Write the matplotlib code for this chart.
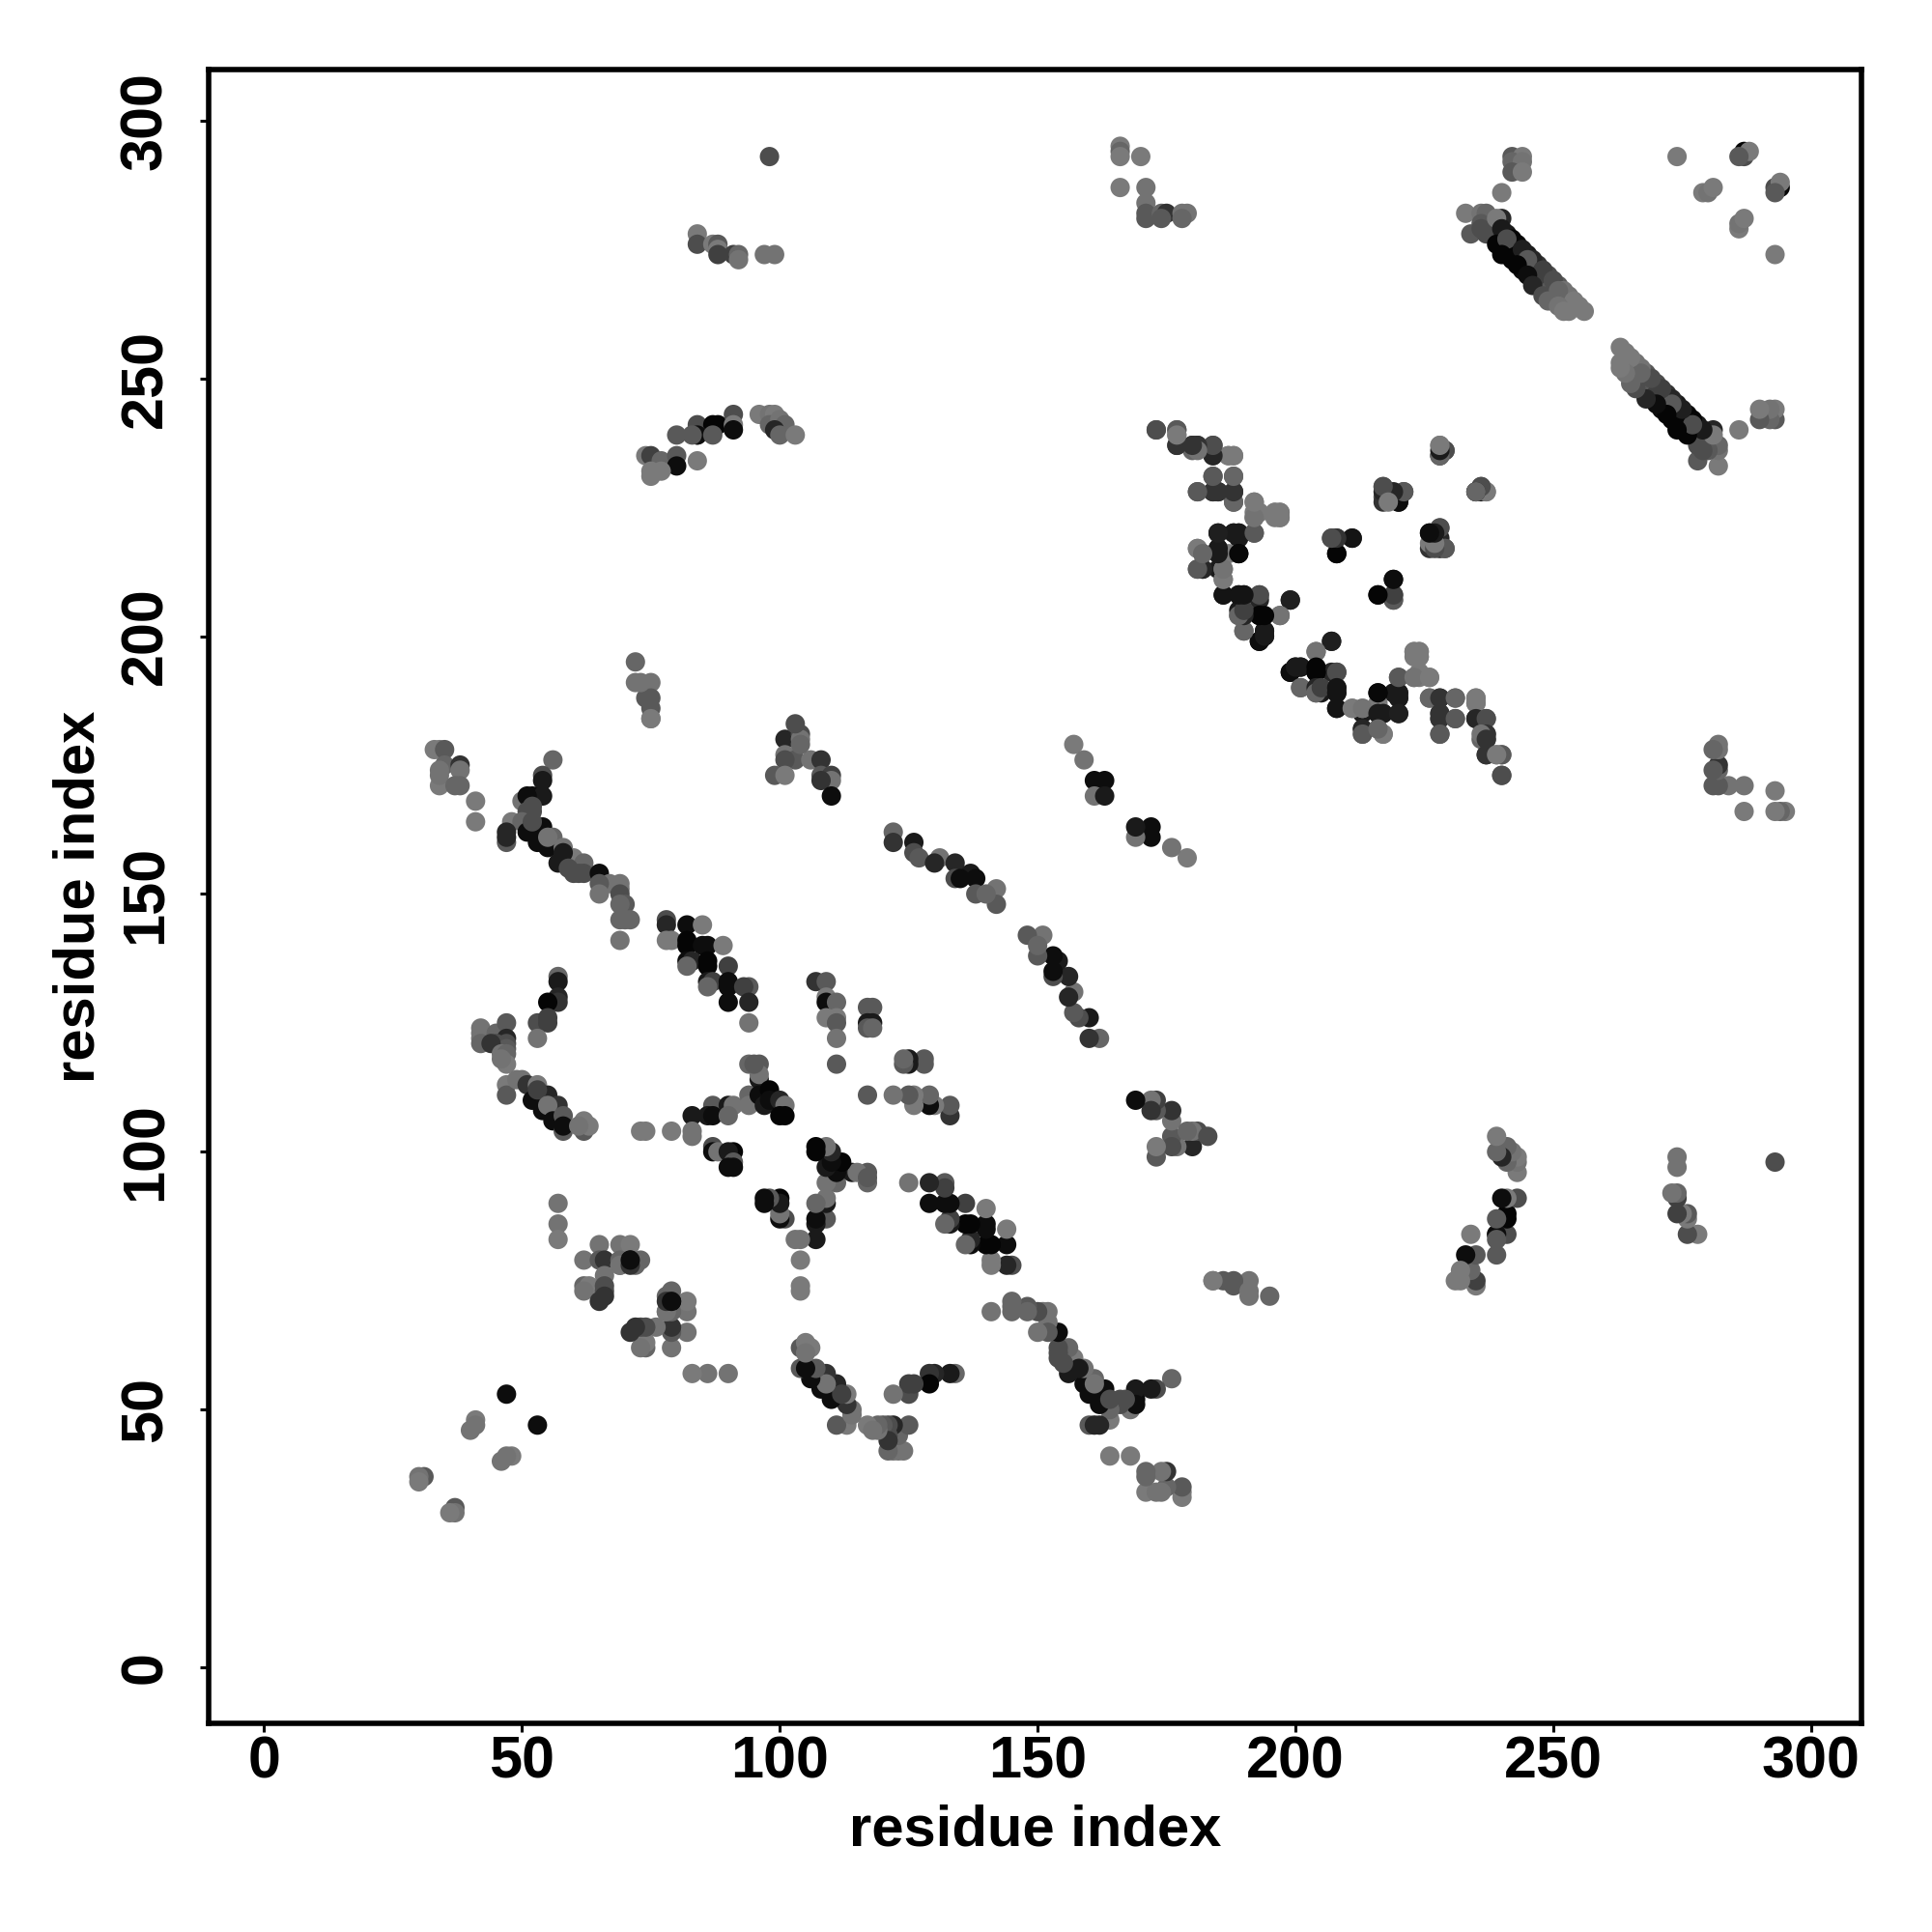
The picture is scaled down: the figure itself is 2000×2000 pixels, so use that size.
import matplotlib
matplotlib.use("Agg")
import matplotlib.pyplot as plt

# Each contact is read once as (i, j) with j > i; the map is symmetric, so (j, i) is drawn too.
a_i = [33,34,35,34,35,38,38,34,34,37,38,41,41]
a_j = [178,178,178,171,175,175,174,174,173,171,171,168,164]
a_g = [.48,.48,.35,.48,.4,.2,.45,.45,.45,.4,.4,.48,.48]

b_i = [56,54,54,52,54,50,51,52,52,51,48,50,47,47,47,51,54,53,52,56,55,58,57,60,62,60,62,61,65,67,69,69,65,65,69,70,69,69,71,70,69,58,55,59]
b_j = [176,173,172,169,169,168,169,167,166,166,164,164,162,160,161,162,163,160,164,161,159,159,156,157,156,154,154,154,154,152,152,151,152,150,150,148,148,145,145,145,141,158,161,155]
b_g = [.4,.3,.1,.05,.1,.45,.05,.3,.3,.3,.48,.4,.15,.35,.15,.05,.05,.05,.3,.4,.05,.45,.1,.48,.4,.3,.3,.3,.05,.45,.45,.45,.35,.45,.3,.35,.4,.4,.4,.4,.45,.1,.45,.3]

c_i = [78,78,82,85,78,79,82,82,86,85,89,82,83,82,86,86,90,86,87,86,90,90,94,93,90,94,94]
c_j = [145,144,144,144,141,141,141,140,140,140,140,137,137,136,137,136,136,133,133,132,133,132,132,132,129,129,125]
c_g = [.3,.15,.05,.48,.48,.48,.02,.02,.05,.05,.48,.05,.15,.4,.02,.02,.25,.1,.25,.4,.05,.05,.35,.25,.05,.15,.45]

d_i = [57,57,57,57,55,53,55,55,53]
d_j = [134,133,130,129,129,125,126,125,122]
d_g = [.4,.1,.15,.2,.02,.3,.25,.25,.45]

e_i = [42,42,42,42,45,47,47,45,47,47,44,46,47,47,46]
e_j = [124,123,122,121,123,125,122,121,121,120,121,119,119,117,118]
e_g = [.45,.45,.45,.4,.4,.35,.15,.3,.3,.35,.2,.45,.4,.48,.45]

f_i = [47,47,49,50,51,53,52,55,53,54,56,57,55,56,58,58,58,62,62,63,61]
f_j = [113,111,114,114,113,113,110,111,112,108,108,109,109,106,107,104,105,104,106,105,105]
f_g = [.48,.35,.45,.45,.2,.48,.05,.15,.25,.05,.05,.2,.45,.05,.35,.35,.05,.35,.48,.48,.45]

g_i = [73,74,79,83,83,83,87,86,87,90,91,90,94,96,94,94,96,96,96,97,98,98,100,101,100,101,95]
g_j = [104,104,104,107,104,103,109,107,107,109,109,107,117,117,111,109,114,115,111,109,112,110,110,109,107,107,117]
g_g = [.48,.48,.48,.1,.45,.45,.35,.1,.05,.1,.45,.4,.4,.35,.4,.45,.1,.45,.05,.1,.02,.05,.15,.45,.02,.02,.35]

h_i = [87,87,88,91,90,91,90,91]
h_j = [101,100,100,100,100,98,97,97]
h_g = [.3,.05,.45,.02,.1,.35,.05,.05]

k_i = [101,104,104,103,101,103,101,106,108,99,101,108,110,110,108,110,104,75,72,72,75,75,75,74,75,73]
k_j = [180,181,180,183,177,176,176,176,176,173,173,173,173,172,172,169,179,184,195,191,191,188,186,188,184,191]
k_g = [.15,.3,.45,.3,.45,.35,.3,.45,.2,.35,.48,.35,.25,.45,.2,.05,.4,.45,.4,.45,.45,.35,.35,.35,.48,.45]

m_i = [107,109,109,109,111,109,111,111,111,111,117,118,117,118,117,118]
m_j = [133,133,130,129,129,126,126,125,122,117,128,128,125,125,124,124]
m_g = [.2,.35,.48,.05,.4,.48,.48,.35,.45,.35,.35,.35,.1,.1,.35,.4]

n_i = [122,122,126,126,127,131,130,134,134,137,138,135,142,138,142,140]
n_j = [162,160,160,158,157,157,156,156,153,154,153,153,151,150,148,150]
n_g = [.4,.2,.1,.3,.35,.45,.15,.15,.3,.1,.05,.05,.45,.35,.35,.4]

o_i = [157,159,161,163,161,163]
o_j = [179,176,172,172,169,169]
o_g = [.48,.45,.05,.05,.45,.1]

p_i = [57,57,57,65,69,71,62,65,66,69,69,71,72,73,66,62,63,62,66,66,65,66,69,71,71]
p_j = [90,86,83,82,82,82,79,79,79,79,78,79,78,79,76,74,74,73,74,73,71,72,78,78,79]
p_g = [.45,.45,.48,.45,.45,.48,.45,.35,.2,.4,.4,.02,.4,.4,.45,.4,.48,.45,.3,.3,.2,.2,.45,.2,.05]

q_i = [47,41,41,40,31,30,30]
q_j = [53,48,47,46,37,37,36]
q_g = [.05,.48,.45,.45,.35,.45,.48]

r_i = [80,84,87,88,91,91,91,84,84,83,87,96,98,99,98,100,101,99,100,103,74,75,77,80,80,84,75,77,75]
r_j = [239,241,241,241,243,241,240,239,239,239,239,243,243,243,241,242,241,240,239,239,235,235,234,235,233,234,232,232,231]
r_g = [.35,.3,.02,.02,.3,.48,.05,.3,.05,.35,.35,.48,.45,.48,.4,.45,.4,.15,.4,.48,.48,.25,.4,.35,.05,.48,.48,.48,.48]

s_i = [98,84,84,87,88,88,88,91,92,92,97,99]
s_j = [293,278,276,276,276,275,274,274,274,273,274,274]
s_g = [.3,.48,.3,.48,.35,.48,.25,.25,.4,.45,.45,.45]

t_i = [166,166,166,170,166,171,171,171,171,174,175,174,178,179,178]
t_j = [295,294,293,293,287,287,284,282,281,282,282,281,282,282,281]
t_g = [.48,.4,.48,.48,.48,.45,.45,.35,.35,.4,.2,.35,.45,.45,.4]

u_i = [173,177,177,177,180,181,180,184,184,184,187,188,184,188,181,184,185,188,188,192,192,192,196,196,197,197,192]
u_j = [240,240,239,237,237,237,236,237,235,236,235,235,231,231,228,228,228,228,226,226,224,223,224,223,224,223,220]
u_g = [.3,.4,.48,.2,.2,.2,.4,.35,.15,.3,.48,.48,.35,.35,.3,.2,.2,.2,.35,.45,.48,.45,.48,.48,.48,.48,.3]

v_i = [185,188,189,189,181,185,182,185,189,187,181,182,185,186,186,186,189,190,193,193,199,189,190,189,193,197,190,194,194,193]
v_j = [220,220,220,219,217,217,216,216,216,216,213,213,213,213,211,208,208,208,208,207,207,204,204,205,204,204,201,201,200,199]
v_g = [.1,.1,.1,.1,.48,.1,.4,.1,.02,.48,.35,.12,.1,.48,.48,.05,.05,.05,.3,.15,.12,.4,.48,.1,.02,.4,.4,.08,.08,.02]

w_i = [207,204,199,200,201,204,204,208,201,204,204,205,208,208,208,211,213,213,213,216,216,217,217,216,220,220,220,220]
w_j = [199,197,193,194,194,194,193,193,190,190,189,190,190,189,186,186,186,182,181,189,185,185,181,182,189,188,185,192]
w_g = [.12,.45,.05,.1,.1,.02,.02,.3,.4,.15,.4,.25,.08,.08,.08,.48,.45,.15,.35,.03,.1,.1,.48,.4,.1,.1,.12,.35]

x_i = [224,224,223,224,223,226,226,228,231,228,228,231,228,235,235,235,237,237,236,237,237,240,239,240]
x_j = [197,196,197,193,192,192,188,188,188,185,184,184,181,188,187,184,184,181,181,180,177,177,177,173]
x_g = [.48,.48,.48,.48,.45,.48,.4,.2,.4,.2,.2,.35,.35,.48,.48,.15,.3,.2,.45,.2,.2,.35,.48,.3]

y_i = [228,229,228,228,217,217,218,221,220,220,236,235,236,237,207,208,211,208,226,228,228,226,228,229,226,219,216,219,219]
y_j = [237,236,235,235,229,227,227,228,227,226,229,228,228,228,219,219,219,216,220,221,219,217,217,217,218,211,208,208,207]
y_g = [.48,.3,.1,.4,.35,.3,.48,.3,.1,.05,.3,.4,.1,.48,.35,.25,.05,.02,.05,.35,.15,.2,.15,.3,.48,.08,.02,.2,.3]

z_i = [242,244,242,244,242,244,240,233,236,237,234,236,236,237,240,239,240,239,242,241,244,240,246,245,243,248,245,250,246,252,248,251,254,249,256,253,251,252]
z_j = [293,293,292,292,290,290,286,282,282,282,278,280,279,278,281,281,279,276,277,277,275,274,273,273,272,271,270,269,268,267,266,267,265,265,263,263,264,263]
z_g = [.35,.48,.4,.45,.35,.48,.48,.48,.45,.4,.35,.35,.3,.3,.15,.48,.1,.02,.02,.3,.12,.02,.15,.35,.02,.25,.05,.3,.15,.45,.3,.4,.48,.4,.48,.48,.45,.48]

z2_i = [238,239,241,241,243,245,247,249,251,253,255,242,244,246,248,250,252,247,249,244,242,241,238,247,250]
z2_j = [279,278,276,278,276,274,272,270,268,266,264,275,273,271,269,267,265,269,267,271,273,275,280,270,266]
z2_g = [.15,.02,.02,.1,.02,.1,.2,.3,.35,.45,.48,.05,.1,.15,.3,.4,.45,.2,.35,.05,.02,.02,.3,.25,.45]

ac_i = [274,287,287,288,279,280,281,286]
ac_j = [293,293,294,294,286,286,287,293]
ac_g = [.48,.3,.02,.48,.48,.45,.48,.35]

groups = [(a_i,a_j,a_g),(b_i,b_j,b_g),(c_i,c_j,c_g),(d_i,d_j,d_g),(e_i,e_j,e_g),(f_i,f_j,f_g),
          (g_i,g_j,g_g),(h_i,h_j,h_g),(k_i,k_j,k_g),(m_i,m_j,m_g),(n_i,n_j,n_g),(o_i,o_j,o_g),
          (p_i,p_j,p_g),(q_i,q_j,q_g),(r_i,r_j,r_g),(s_i,s_j,s_g),(t_i,t_j,t_g),(u_i,u_j,u_g),
          (v_i,v_j,v_g),(w_i,w_j,w_g),(x_i,x_j,x_g),(y_i,y_j,y_g),(z2_i,z2_j,z2_g),(z_i,z_j,z_g),(ac_i,ac_j,ac_g)]

tick_values = [0, 50, 100, 150, 200, 250, 300]
axis_label = "residue index"

plt.rcParams['font.family'] = ['Liberation Sans', 'DejaVu Sans']
fig = plt.figure(figsize=(10, 10), dpi=200)
ax = fig.add_axes([0.1080, 0.1082, 0.8556, 0.8556])

for gi, gj, gg in groups:
    for xs, ys in ((gi, gj), (gj, gi)):
        ax.scatter(xs, ys, c=[str(v) for v in gg], s=52, linewidths=0)

ax.set_xlim(-10.76, 309.8)
ax.set_ylim(-10.76, 309.8)
ax.set_xticks(tick_values)
ax.set_yticks(tick_values)
ax.set_xticklabels([str(t) for t in tick_values], fontsize=22, fontweight='bold')
ax.set_yticklabels([str(t) for t in tick_values], fontsize=22, fontweight='bold', rotation=90, va='center')
ax.tick_params(axis='both', length=3.2, width=1.1)
ax.tick_params(axis='x', pad=1.6)
ax.tick_params(axis='y', pad=9.7)
ax.set_xlabel(axis_label, fontsize=21.5, fontweight='bold', labelpad=4.8)
ax.set_ylabel(axis_label, fontsize=21.5, fontweight='bold', labelpad=4.8)
for sp in ax.spines.values():
    sp.set_linewidth(2.0)
fig.savefig("out.png", dpi=200, facecolor='white')
